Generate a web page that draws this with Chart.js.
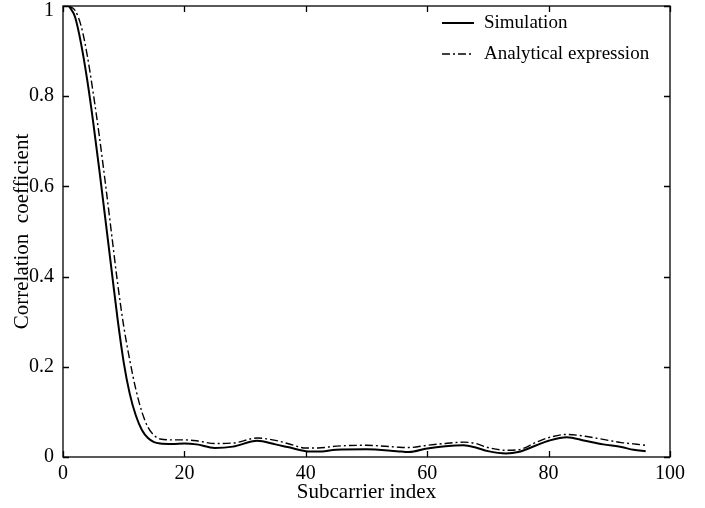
<!DOCTYPE html>
<html>
<head>
<meta charset="utf-8">
<script src="https://cdn.jsdelivr.net/npm/chart.js@4/dist/chart.umd.min.js"></script>
<style>
  html, body { margin: 0; padding: 0; background: #fff; }
  canvas { display: block; }
</style>
</head>
<body>
<canvas id="corrChart" width="705" height="508"></canvas>
<script>
// subcarrier index (x) and the two curves
const subcarriers = [1, 2, 3, 4, 5, 6, 7, 8, 9, 10, 11, 12, 13, 14, 15, 16, 18, 20, 22, 25, 28, 32, 35, 37, 40, 42, 45, 50, 55, 57, 60, 63, 66, 68, 70, 73, 75, 78, 80, 83, 86, 89, 92, 94, 96];
const simulation = [1.0, 0.975, 0.915, 0.835, 0.74, 0.635, 0.525, 0.415, 0.305, 0.21, 0.14, 0.092, 0.06, 0.042, 0.033, 0.03, 0.029, 0.03, 0.028, 0.02, 0.023, 0.036, 0.028, 0.022, 0.013, 0.012, 0.016, 0.017, 0.013, 0.011, 0.019, 0.024, 0.026, 0.021, 0.013, 0.008, 0.011, 0.026, 0.036, 0.044, 0.036, 0.028, 0.022, 0.016, 0.013];
const analytical = [1.0, 0.99, 0.955, 0.89, 0.805, 0.71, 0.605, 0.495, 0.385, 0.29, 0.215, 0.15, 0.1, 0.066, 0.048, 0.04, 0.038, 0.038, 0.036, 0.03, 0.031, 0.042, 0.037, 0.03, 0.02, 0.02, 0.024, 0.026, 0.022, 0.021, 0.026, 0.03, 0.033, 0.03, 0.021, 0.015, 0.016, 0.033, 0.043, 0.05, 0.046, 0.039, 0.032, 0.029, 0.026];

const xTicks = [0, 20, 40, 60, 80, 100];
const yTicks = [0, 0.2, 0.4, 0.6, 0.8, 1];
const yTickLabels = ["0", "0.2", "0.4", "0.6", "0.8", "1"];

const serif = "'Liberation Serif', 'DejaVu Serif', serif";

// box around the plot, inward ticks on all sides, y labels, legend in the top right
const framePlugin = {
  id: "frame",
  afterDraw(chart) {
    const { ctx, chartArea: a, scales } = chart;
    const t = 6;
    ctx.save();
    ctx.strokeStyle = "#000";
    ctx.lineWidth = 1.3;
    ctx.strokeRect(a.left, a.top, a.right - a.left, a.bottom - a.top);
    ctx.beginPath();
    xTicks.forEach((v) => {
      const px = Math.round(scales.x.getPixelForValue(v)) + 0.5;
      ctx.moveTo(px, a.bottom); ctx.lineTo(px, a.bottom - t);
      ctx.moveTo(px, a.top); ctx.lineTo(px, a.top + t);
    });
    yTicks.forEach((v) => {
      const py = Math.round(scales.y.getPixelForValue(v)) + 0.5;
      ctx.moveTo(a.left, py); ctx.lineTo(a.left + t, py);
      ctx.moveTo(a.right, py); ctx.lineTo(a.right - t, py);
    });
    ctx.stroke();

    // y tick labels (the top one kept inside the canvas)
    ctx.fillStyle = "#000";
    ctx.font = "20px " + serif;
    ctx.textAlign = "right";
    ctx.textBaseline = "middle";
    yTicks.forEach((v, i) => {
      const py = Math.max(scales.y.getPixelForValue(v), 11);
      ctx.fillText(yTickLabels[i], a.left - 9, py);
    });

    // legend
    ctx.font = "19px " + serif;
    ctx.textAlign = "left";
    chart.data.datasets.forEach((ds, i) => {
      const y = 23 + i * 31;
      ctx.beginPath();
      ctx.lineWidth = ds.borderWidth;
      ctx.setLineDash(ds.borderDash || []);
      ctx.moveTo(442, y);
      ctx.lineTo(474, y);
      ctx.stroke();
      ctx.setLineDash([]);
      ctx.fillText(ds.label, 484, y);
    });
    ctx.restore();
  },
};

const ctx = document.getElementById("corrChart").getContext("2d");

new Chart(ctx, {
  type: "line",
  data: {
    datasets: [
      {
        label: "Simulation",
        data: subcarriers.map((x, i) => ({ x: x, y: simulation[i] })),
        borderColor: "#000",
        borderWidth: 2,
        pointRadius: 0,
        cubicInterpolationMode: "monotone",
        fill: false,
      },
      {
        label: "Analytical expression",
        data: subcarriers.map((x, i) => ({ x: x, y: analytical[i] })),
        borderColor: "#000",
        borderWidth: 1.4,
        borderDash: [8, 3, 2, 3],
        pointRadius: 0,
        cubicInterpolationMode: "monotone",
        fill: false,
      },
    ],
  },
  options: {
    responsive: false,
    animation: false,
    layout: {
      padding: { top: 6, right: 35, left: 0, bottom: 0 },
    },
    plugins: {
      legend: { display: false },
      tooltip: { enabled: false },
    },
    scales: {
      x: {
        type: "linear",
        min: 0,
        max: 100,
        afterFit(scale) {
          scale.height = 51;
          scale.paddingLeft = 0;
          scale.paddingRight = 0;
        },
        afterBuildTicks(scale) { scale.ticks = xTicks.map((v) => ({ value: v })); },
        grid: { display: false, drawTicks: false },
        border: { display: false },
        ticks: {
          color: "#000",
          padding: 5,
          font: { family: serif, size: 20 },
        },
        title: {
          display: true,
          text: "Subcarrier index",
          color: "#000",
          font: { family: serif, size: 21 },
          padding: { top: 0, bottom: 3 },
        },
      },
      y: {
        min: 0,
        max: 1,
        afterFit(scale) {
          scale.width = 63;
          scale.paddingTop = 0;
          scale.paddingBottom = 0;
        },
        afterBuildTicks(scale) { scale.ticks = yTicks.map((v) => ({ value: v })); },
        grid: { display: false, drawTicks: false },
        border: { display: false },
        ticks: { display: false },
        title: {
          display: true,
          text: "Correlation  coefficient",
          color: "#000",
          font: { family: serif, size: 21 },
          padding: { top: 10, bottom: 0 },
        },
      },
    },
  },
  plugins: [framePlugin],
});
</script>
</body>
</html>
